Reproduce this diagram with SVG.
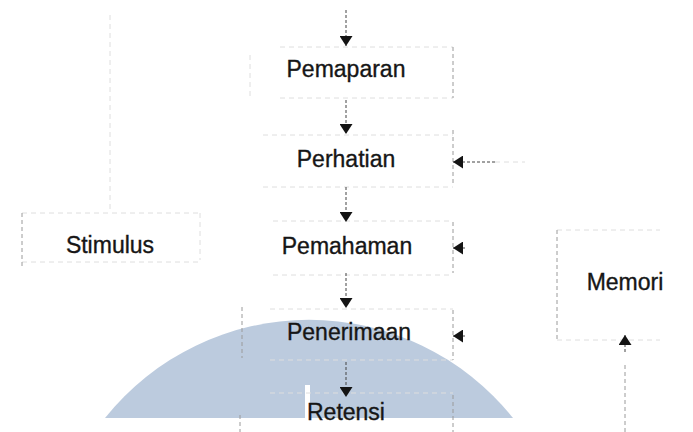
<svg xmlns="http://www.w3.org/2000/svg" width="693" height="432" viewBox="0 0 693 432">
  <style>
    .label { font-family: "Liberation Sans", Arial, sans-serif; font-size: 23px; fill: #161616; stroke: #161616; stroke-width: 0.35; text-anchor: middle; }
    .edge { fill: none; stroke: #9a9a9a; stroke-width: 1; stroke-dasharray: 4 3; }
    .faint { fill: none; stroke: #dedede; stroke-width: 1; stroke-dasharray: 5 4; }
    .link { fill: none; stroke: #444; stroke-width: 1; stroke-dasharray: 3 2; }
  </style>
  <defs>
    <marker id="head" viewBox="0 0 10 13" refX="10" refY="6.5" markerWidth="10" markerHeight="13" markerUnits="userSpaceOnUse" orient="auto">
      <path d="M0,0 L10,6.5 L0,13 Z" fill="#141414"/>
    </marker>
  </defs>

  <rect width="693" height="432" fill="#ffffff"/>

  <!-- background seal -->
  <path d="M105,418 A261,261 0 0 1 513,418 Z" fill="#bccbde"/>
  <rect x="305" y="385" width="5" height="33" fill="#ffffff"/>

  <g id="node-pemaparan">
    <path class="faint" d="M280,47 H453 M280,98 H453 M250,55 V98"/>
    <path class="edge" d="M453,47 V98"/>
    <text class="label" x="346" y="77">Pemaparan</text>
  </g>

  <g id="node-perhatian">
    <path class="faint" d="M263,135 H453 M263,187 H453"/>
    <path class="edge" d="M453,130 V183"/>
    <text class="label" x="346" y="167">Perhatian</text>
  </g>

  <g id="node-pemahaman">
    <path class="faint" d="M273,221 H453 M273,275 H453"/>
    <path class="edge" d="M453,222 V273"/>
    <text class="label" x="347" y="254">Pemahaman</text>
  </g>

  <g id="node-penerimaan">
    <path class="faint" d="M270,309 H453 M270,360 H453"/>
    <path class="edge" d="M453,310 V360 M242,307 V358"/>
    <text class="label" x="349" y="340">Penerimaan</text>
  </g>

  <g id="node-retensi">
    <path class="faint" d="M270,393 H453"/>
    <path class="edge" d="M453,395 V432 M240,415 V432"/>
    <text class="label" x="346" y="420">Retensi</text>
  </g>

  <g id="node-stimulus">
    <path class="faint" d="M22,213 H200 M22,262 H200 M200,213 V260"/>
    <path class="edge" d="M22,213 V268" stroke-dasharray="none"/>
    <text class="label" x="110" y="253">Stimulus</text>
  </g>

  <g id="node-memori">
    <path class="faint" d="M557,230 H660 M557,340 H660"/>
    <path class="edge" d="M557,230 V340"/>
    <text class="label" x="625" y="290">Memori</text>
  </g>

  <g id="connectors">
    <!-- stimulus up to the exposure stage -->
    <path class="faint" d="M110,15 V212" stroke="#cfcfcf"/>
    <path class="link" d="M346,10 V46" marker-end="url(#head)"/>
    <!-- main processing chain -->
    <path class="link" d="M346,100 V134" marker-end="url(#head)"/>
    <path class="link" d="M346,187 V222" marker-end="url(#head)"/>
    <path class="link" d="M346,273 V308" marker-end="url(#head)"/>
    <path class="link" d="M346,362 V397" marker-end="url(#head)"/>
    <!-- memory feedback into the stages -->
    <path class="link" d="M495,162 H453" stroke="#888" marker-end="url(#head)"/>
    <path class="faint" d="M495,162 H525"/>
    <path class="link" d="M465,248 H453" marker-end="url(#head)"/>
    <path class="link" d="M465,336 H453" marker-end="url(#head)"/>
    <!-- retention into memory -->
    <path class="edge" d="M625,432 V362"/>
    <path class="link" d="M625,352 V335" marker-end="url(#head)"/>
  </g>
</svg>
